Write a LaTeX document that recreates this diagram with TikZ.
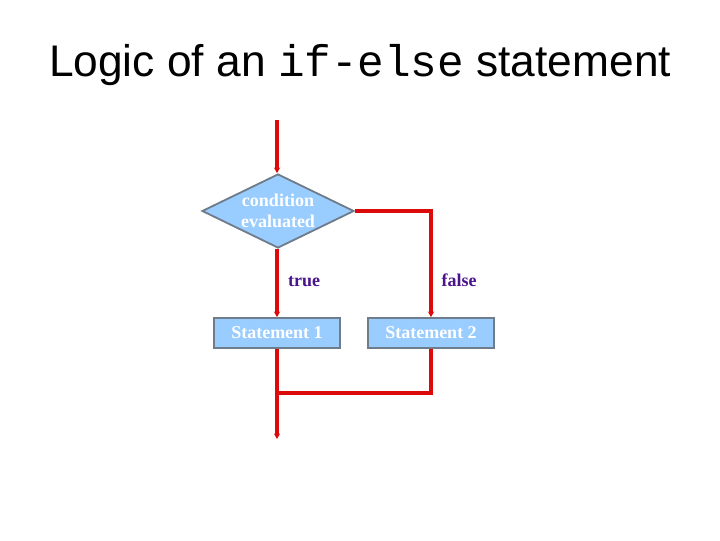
\documentclass[tikz,border=0pt]{standalone}
\usepackage{fontspec}
\setmainfont{Liberation Serif}
\setsansfont{Liberation Sans}
\setmonofont{Liberation Mono}
\usetikzlibrary{shapes.geometric,arrows.meta}
\definecolor{flowred}{HTML}{DD0A0A}
\definecolor{boxblue}{HTML}{99CCFF}
\definecolor{boxgray}{HTML}{6F7C8A}
\definecolor{lblpurple}{HTML}{4A148C}
\tikzset{
	flow/.style={draw=flowred, line width=2.4pt, -{Stealth[length=4pt,width=4.5pt]}},
	line/.style={draw=flowred, line width=2.4pt},
	stmt/.style={draw=boxgray, fill=boxblue, line width=1.3pt, minimum width=126*0.025cm, minimum height=30*0.025cm, inner sep=0, text=white, font=\fontsize{12.8}{14}\selectfont\bfseries},
	cond/.style={diamond, draw=boxgray, fill=boxblue, line width=1.3pt, aspect=2.05, inner sep=0, minimum width=152*0.025cm, minimum height=74*0.025cm, text=white, align=center, font=\fontsize{12.8}{15}\selectfont\bfseries},
	lbl/.style={anchor=base, text=lblpurple, font=\fontsize{12.8}{14}\selectfont\bfseries}
}
\begin{document}
\begin{tikzpicture}[x=0.025cm, y=-0.025cm]
	\useasboundingbox (0,0) rectangle (720,540);
	\node	(title) at (360,65) {\fontsize{31.5}{36}\selectfont\sffamily Logic of an \texttt{if-else} statement};
	
	\coordinate	(start) at (277,120);
	\node	(c) at (278,211) [cond] {condition\\evaluated};
	\node	(s1) at (277,333) [stmt] {Statement 1};
	\node	(s2) at (431,333) [stmt] {Statement 2};
	\node	(t) at (304,286) [lbl] {true};
	\node	(f) at (459,286) [lbl] {false};
	\coordinate	(join) at (277,393);
	\coordinate	(stop) at (277,439);
	
	\draw[flow] (start) -- (start |- c.north);
	\draw[flow] (c.south -| start) -- (s1.north);
	\draw[flow] (c.east) -| (s2.north);
	\draw[flow] (s1.south) -- (stop);
	\draw[line] (s2.south) |- (join);
\end{tikzpicture}
\end{document}
